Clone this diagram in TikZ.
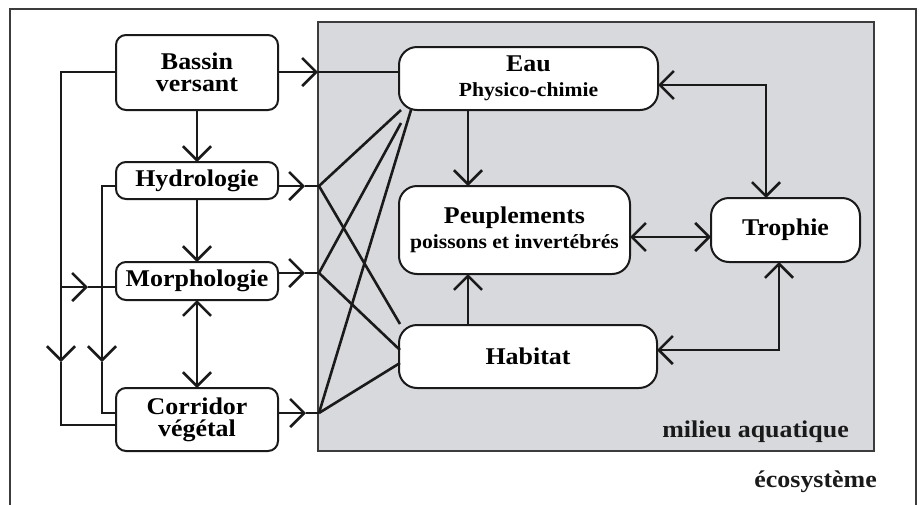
\documentclass[tikz,border=0pt]{standalone}
\usepackage{fontspec}
\setmainfont{Liberation Serif}[FakeStretch=1.08]
\usetikzlibrary{arrows.meta}
\definecolor{ink}{RGB}{26,26,26}
\definecolor{frameink}{RGB}{60,60,60}
\definecolor{aqua}{RGB}{216,217,221}
\newcommand{\bigtxt}{\fontsize{24}{22}\selectfont\bfseries}
\newcommand{\subtxt}{\fontsize{20}{22}\selectfont\bfseries}
\tikzset{
  barb/.tip={Straight Barb[length=14pt,width=28pt]},
  link/.style={draw=ink, line width=2.6pt},
  box/.style={draw=ink, line width=2pt, fill=white, inner sep=0pt, outer sep=0pt,
    align=center, font=\bigtxt, rounded corners=10pt},
  bigbox/.style={box, rounded corners=18pt},
  label/.style={font=\bigtxt, text=ink, inner sep=0pt, anchor=base east}
}
\begin{document}
\begin{tikzpicture}[x=1pt,y=-1pt]
\useasboundingbox (0,0) rectangle (922,504);
\clip (0,0) rectangle (922,504);

% ecosystem frame and aquatic zone
\draw[frameink, line width=1.2pt] (10,9) rectangle (916,530);
\draw[frameink, line width=1.8pt, fill=aqua] (318,22) rectangle (874,451);
\node[label] (milieu) at (849,437) {milieu aquatique};
\node[label] (eco) at (877,487) {écosystème};

% driver boxes
\node[box, minimum width=162pt, minimum height=75pt] (bassin) at (197,72.5) {Bassin\\versant};
\node[box, minimum width=162pt, minimum height=37pt] (hydro) at (197,180.5) {Hydrologie};
\node[box, minimum width=162pt, minimum height=38pt] (morpho) at (197,281) {Morphologie};
\node[box, minimum width=162pt, minimum height=63pt] (corridor) at (197,419.5) {Corridor\\végétal};

% aquatic boxes
\node[bigbox, minimum width=259pt, minimum height=63pt] (eau) at (528.5,78.5)
  {Eau\\[3pt]{\subtxt Physico-chimie}};
\node[bigbox, minimum width=231pt, minimum height=88pt] (peupl) at (514.5,230)
  {Peuplements\\[3pt]{\subtxt poissons et invertébrés}};
\node[bigbox, minimum width=258pt, minimum height=63pt] (habitat) at (528,356.5) {Habitat};
\node[bigbox, minimum width=149pt, minimum height=64pt] (trophie) at (785.5,230) {Trophie};

% junction points on the zone border
\coordinate (pB) at (318,72);
\coordinate (pH) at (319,186);
\coordinate (pM) at (319,273);
\coordinate (pC) at (319,413);
\coordinate (tH) at (305,186);
\coordinate (tM) at (305,273);
\coordinate (tC) at (306,413);

% fan ends near the aquatic boxes
\coordinate (eA) at (401,110);
\coordinate (eB) at (401,123);
\coordinate (eC) at (411,110);
\coordinate (hA) at (400,324);
\coordinate (hB) at (400,350);
\coordinate (hC) at (400,363);

% left feedback loops
\coordinate (lA) at (61,0);
\coordinate (lB) at (102,0);
\coordinate (mA) at (61,362);
\coordinate (mB) at (102,362);
\coordinate (jM) at (61,287);
\coordinate (tJ) at (88,287);

% inner columns
\coordinate (xP) at (468,0);
\coordinate (xT1) at (766,0);
\coordinate (xT2) at (779,0);

% bassin to eau
\draw[link, -barb] (bassin.east |- pB) -- (pB);
\draw[link] (pB) -- (eau.west |- pB);

% drivers into the zone
\draw[link, -barb] (hydro.east |- pH) -- (tH);
\draw[link] (tH) -- (pH);
\draw[link, -barb] (morpho.east |- pM) -- (tM);
\draw[link] (tM) -- (pM);
\draw[link, -barb] (corridor.east |- pC) -- (tC);
\draw[link] (tC) -- (pC);

% fan of links to eau and habitat
\draw[link] (pH) -- (eA);
\draw[link] (pH) -- (hA);
\draw[link] (pM) -- (eB);
\draw[link] (pM) -- (hB);
\draw[link] (pC) -- (eC);
\draw[link] (pC) -- (hC);

% driver chain
\draw[link, -barb] (bassin.south) -- (hydro.north);
\draw[link, -barb] (hydro.south) -- (morpho.north);
\draw[link, barb-barb] (morpho.south) -- (corridor.north);

% outer loop from bassin
\draw[link, -barb] (bassin.west |- pB) -- (lA |- pB) -- (mA);
\draw[link] (mA) -- (lA |- 0,425) -- (corridor.west |- 0,425);
\draw[link, -barb] (jM) -- (tJ);
\draw[link] (tJ) -- (morpho.west |- jM);

% inner loop from hydrologie
\draw[link, -barb] (hydro.west |- pH) -- (lB |- pH) -- (mB);
\draw[link] (mB) -- (lB |- pC) -- (corridor.west |- pC);

% aquatic interactions
\draw[link, -barb] (eau.south -| xP) -- (peupl.north -| xP);
\draw[link, -barb] (habitat.north -| xP) -- (peupl.south -| xP);
\draw[link, barb-barb] (peupl.east |- 0,237) -- (trophie.west |- 0,237);
\draw[link, barb-barb] (eau.east |- 0,85) -- (xT1 |- 0,85) -- (trophie.north -| xT1);
\draw[link, barb-barb] (habitat.east |- 0,350) -- (xT2 |- 0,350) -- (trophie.south -| xT2);
\end{tikzpicture}
\end{document}
